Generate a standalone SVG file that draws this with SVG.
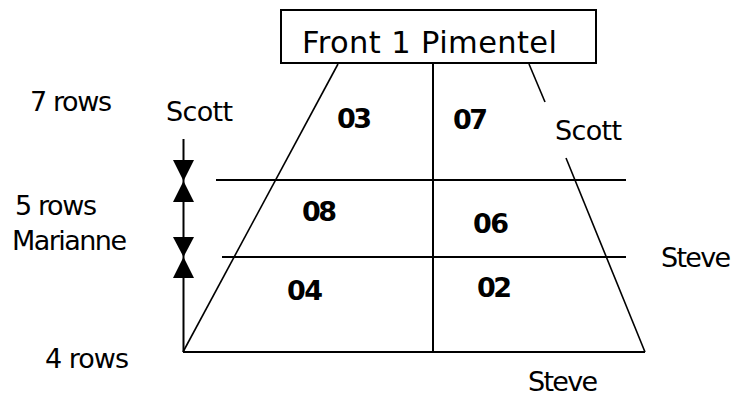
<svg xmlns="http://www.w3.org/2000/svg" width="740" height="397" viewBox="0 0 740 397">
<style>
.t{font-family:"DejaVu Sans","Open Sans",sans-serif;font-size:27px;fill:#000}
.n{font-family:"DejaVu Sans","Open Sans",sans-serif;font-size:27px;font-weight:bold;fill:#000}
.ln{stroke:#000;stroke-width:2;fill:none}
.sl{stroke:#000;stroke-width:1.6;fill:none}
.ah{fill:#000;stroke:none}
</style>
<rect width="740" height="397" fill="#fff"/>
<g id="title">
<rect x="281" y="10" width="315" height="53" fill="#fff" stroke="#000" stroke-width="2"/>
<text class="t" x="302" y="53" style="font-size:30.5px" textLength="255">Front 1 Pimentel</text>
</g>
<g id="shape">
<line class="sl" x1="338" y1="64" x2="183" y2="352"/>
<line class="sl" x1="529" y1="64" x2="545" y2="102"/>
<line class="sl" x1="566" y1="158" x2="645" y2="352"/>
<line class="ln" x1="433" y1="63" x2="433" y2="352"/>
<line class="ln" x1="183" y1="352" x2="645" y2="352"/>
<line class="ln" x1="216" y1="180" x2="626" y2="180"/>
<line class="ln" x1="222" y1="257" x2="626" y2="257"/>
</g>
<g id="connectors">
<line class="ln" x1="183.5" y1="139" x2="183.5" y2="352"/>
<polygon class="ah" points="173,160 194,160 183.5,181"/>
<polygon class="ah" points="183.5,181 173,202 194,202"/>
<polygon class="ah" points="173,237 194,237 183.5,257"/>
<polygon class="ah" points="183.5,257 173,278 194,278"/>
</g>
<g id="cell-03"><text class="n" x="337" y="128" textLength="35">03</text></g>
<g id="cell-07"><text class="n" x="453" y="129" textLength="35">07</text></g>
<g id="cell-08"><text class="n" x="302" y="221" textLength="35">08</text></g>
<g id="cell-06"><text class="n" x="473" y="233" textLength="36">06</text></g>
<g id="cell-04"><text class="n" x="287" y="300" textLength="36">04</text></g>
<g id="cell-02"><text class="n" x="477" y="297" textLength="35">02</text></g>
<g id="labels">
<text class="t" x="30" y="111" textLength="82">7 rows</text>
<text class="t" x="166" y="121" textLength="67">Scott</text>
<text class="t" x="555" y="140" textLength="67">Scott</text>
<text class="t" x="15" y="215" textLength="82">5 rows</text>
<text class="t" x="12" y="250" textLength="115">Marianne</text>
<text class="t" x="661" y="267" textLength="70">Steve</text>
<text class="t" x="45" y="368" textLength="84">4 rows</text>
<text class="t" x="528" y="391" textLength="70">Steve</text>
</g>
</svg>
